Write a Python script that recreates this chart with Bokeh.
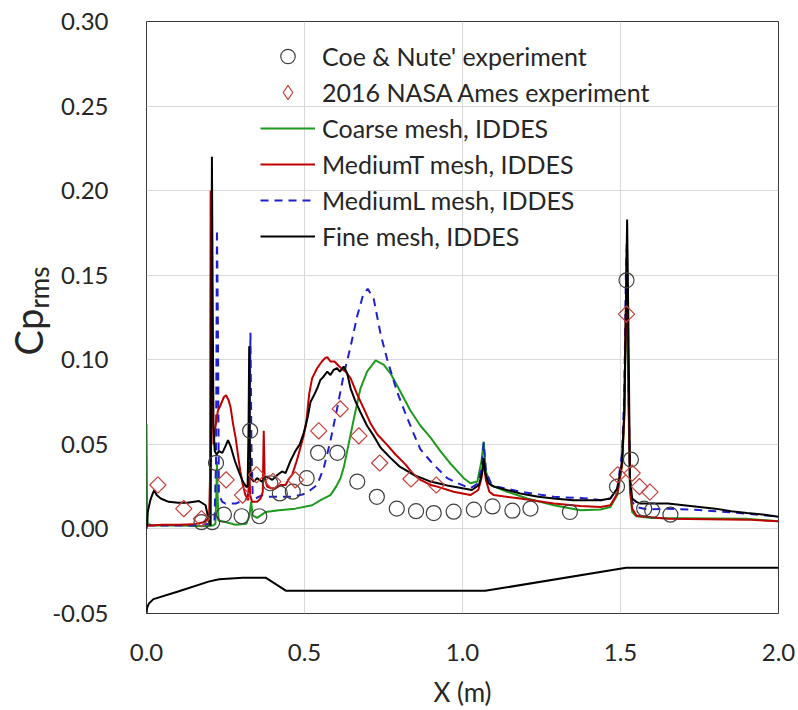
import numpy as np
from bokeh.plotting import figure
from bokeh.models import (Range1d, Legend, LegendItem, FixedTicker, NumeralTickFormatter,
                          LinearAxis)
from bokeh.embed import file_html
from bokeh.resources import INLINE

FONT = "Lato"
NBSP = "\u00a0"

# ---------------- data ----------------
x_ticks = [0.0, 0.5, 1.0, 1.5, 2.0]
y_ticks = [-0.05, 0.0, 0.05, 0.10, 0.15, 0.20, 0.25, 0.30]

coe_nute = [(0.174, 0.004), (0.208, 0.004), (0.220, 0.039), (0.245, 0.0085), (0.301, 0.0075),
            (0.328, 0.058), (0.357, 0.0075), (0.392, 0.027), (0.422, 0.021), (0.463, 0.022),
            (0.507, 0.030), (0.543, 0.045), (0.604, 0.045), (0.667, 0.028), (0.729, 0.019),
            (0.792, 0.012), (0.853, 0.0105), (0.909, 0.0094), (0.972, 0.0102), (1.036, 0.0114),
            (1.095, 0.0133), (1.158, 0.0108), (1.215, 0.012), (1.340, 0.010), (1.489, 0.025),
            (1.519, 0.147), (1.533, 0.041), (1.575, 0.012), (1.600, 0.011), (1.658, 0.0084)]

nasa_ames = [(0.036, 0.026), (0.118, 0.012), (0.174, 0.006), (0.252, 0.029), (0.304, 0.020),
             (0.348, 0.032), (0.400, 0.028), (0.471, 0.029), (0.545, 0.058), (0.613, 0.071),
             (0.672, 0.055), (0.738, 0.039), (0.837, 0.0295), (0.917, 0.026), (1.491, 0.032),
             (1.519, 0.127), (1.537, 0.033), (1.560, 0.025), (1.593, 0.0218)]

coarse = [(0.000, 0.062), (0.002, 0.010), (0.004, 0.003), (0.020, 0.002), (0.100, 0.002),
          (0.187, 0.0016), (0.210, 0.002), (0.218, 0.003), (0.221, 0.020), (0.223, 0.040),
          (0.225, 0.020), (0.228, 0.005), (0.240, 0.0045), (0.282, 0.0025), (0.316, 0.003),
          (0.326, 0.008), (0.331, 0.016), (0.336, 0.008), (0.350, 0.0065), (0.377, 0.010),
          (0.419, 0.011), (0.471, 0.012), (0.524, 0.014), (0.551, 0.017), (0.582, 0.020),
          (0.600, 0.025), (0.614, 0.030), (0.625, 0.037), (0.635, 0.046), (0.656, 0.065),
          (0.677, 0.083), (0.698, 0.093), (0.725, 0.0996), (0.741, 0.098), (0.751, 0.097),
          (0.772, 0.092), (0.804, 0.081), (0.835, 0.070), (0.867, 0.061), (0.899, 0.054),
          (0.930, 0.046), (0.960, 0.039), (1.004, 0.030), (1.025, 0.027), (1.047, 0.028),
          (1.060, 0.040), (1.067, 0.0516), (1.074, 0.034), (1.089, 0.026), (1.141, 0.022),
          (1.205, 0.018), (1.289, 0.014), (1.373, 0.011), (1.437, 0.0115), (1.468, 0.013),
          (1.490, 0.020), (1.505, 0.038), (1.512, 0.065), (1.517, 0.120), (1.520, 0.150),
          (1.524, 0.090), (1.530, 0.022), (1.537, 0.010), (1.550, 0.0075), (1.600, 0.0065),
          (1.900, 0.006), (2.000, 0.0045)]

medium_t = [(0.000, 0.002), (0.010, 0.002), (0.050, 0.0025), (0.100, 0.0025), (0.150, 0.0027),
            (0.180, 0.004), (0.192, 0.0055), (0.198, 0.006), (0.201, 0.030), (0.203, 0.200),
            (0.205, 0.160), (0.208, 0.090), (0.212, 0.050), (0.218, 0.060), (0.226, 0.070),
            (0.234, 0.073), (0.245, 0.078), (0.252, 0.079), (0.260, 0.076), (0.266, 0.072),
            (0.274, 0.062), (0.282, 0.054), (0.290, 0.043), (0.297, 0.034), (0.305, 0.026),
            (0.313, 0.020), (0.322, 0.017), (0.325, 0.040), (0.328, 0.020), (0.334, 0.016),
            (0.350, 0.016), (0.361, 0.018), (0.368, 0.022), (0.371, 0.058), (0.374, 0.030),
            (0.382, 0.025), (0.395, 0.024), (0.408, 0.024), (0.425, 0.026), (0.440, 0.026),
            (0.452, 0.030), (0.461, 0.032), (0.475, 0.040), (0.487, 0.048), (0.497, 0.055),
            (0.505, 0.062), (0.515, 0.080), (0.524, 0.089), (0.540, 0.095), (0.555, 0.099),
            (0.565, 0.101), (0.572, 0.1016), (0.582, 0.099), (0.595, 0.099), (0.610, 0.096),
            (0.630, 0.093), (0.646, 0.089), (0.668, 0.079), (0.688, 0.071), (0.710, 0.062),
            (0.730, 0.056), (0.760, 0.050), (0.788, 0.044), (0.820, 0.038), (0.846, 0.032),
            (0.867, 0.029), (0.899, 0.026), (0.920, 0.025), (0.972, 0.022), (1.025, 0.020),
            (1.050, 0.023), (1.060, 0.030), (1.067, 0.040), (1.074, 0.029), (1.085, 0.022),
            (1.099, 0.020), (1.183, 0.018), (1.289, 0.015), (1.373, 0.0135), (1.437, 0.013),
            (1.468, 0.014), (1.490, 0.021), (1.505, 0.038), (1.512, 0.068), (1.517, 0.130),
            (1.520, 0.165), (1.524, 0.100), (1.530, 0.025), (1.537, 0.012), (1.550, 0.008),
            (1.563, 0.0075), (1.650, 0.006), (1.900, 0.0055), (2.000, 0.0045)]

medium_l = [(0.000, 0.002), (0.050, 0.002), (0.100, 0.002), (0.150, 0.002), (0.200, 0.003),
            (0.215, 0.004), (0.220, 0.040), (0.223, 0.177), (0.226, 0.120), (0.229, 0.020),
            (0.240, 0.016), (0.250, 0.015), (0.282, 0.015), (0.308, 0.017), (0.320, 0.018),
            (0.325, 0.040), (0.329, 0.116), (0.332, 0.050), (0.336, 0.020), (0.345, 0.018),
            (0.366, 0.020), (0.382, 0.019), (0.419, 0.019), (0.461, 0.019), (0.487, 0.020),
            (0.503, 0.021), (0.519, 0.023), (0.540, 0.026), (0.561, 0.036), (0.582, 0.052),
            (0.603, 0.071), (0.624, 0.091), (0.646, 0.108), (0.667, 0.126), (0.685, 0.138),
            (0.700, 0.142), (0.719, 0.136), (0.741, 0.115), (0.762, 0.100), (0.793, 0.081),
            (0.820, 0.068), (0.846, 0.056), (0.867, 0.047), (0.899, 0.040), (0.925, 0.035),
            (0.952, 0.030), (0.985, 0.027), (1.025, 0.024), (1.050, 0.027), (1.060, 0.036),
            (1.067, 0.051), (1.074, 0.034), (1.090, 0.027), (1.110, 0.025), (1.183, 0.022),
            (1.289, 0.019), (1.394, 0.018), (1.440, 0.017), (1.468, 0.018), (1.490, 0.024),
            (1.505, 0.045), (1.512, 0.080), (1.517, 0.150), (1.520, 0.170), (1.524, 0.100),
            (1.530, 0.030), (1.537, 0.016), (1.550, 0.013), (1.585, 0.0115), (1.650, 0.012),
            (1.730, 0.0114), (1.800, 0.0105), (1.900, 0.0090), (2.000, 0.0072)]

fine = [(0.000, 0.000), (0.004, 0.010), (0.012, 0.017), (0.020, 0.021), (0.025, 0.023),
        (0.032, 0.020), (0.045, 0.018), (0.070, 0.016), (0.100, 0.0155), (0.130, 0.0155),
        (0.166, 0.0165), (0.187, 0.014), (0.197, 0.005), (0.203, 0.002), (0.205, 0.100),
        (0.207, 0.220), (0.209, 0.150), (0.212, 0.060), (0.216, 0.046), (0.222, 0.044),
        (0.229, 0.046), (0.240, 0.045), (0.250, 0.049), (0.258, 0.0525), (0.266, 0.049),
        (0.280, 0.040), (0.292, 0.034), (0.305, 0.028), (0.315, 0.025), (0.320, 0.025),
        (0.323, 0.060), (0.325, 0.108), (0.327, 0.050), (0.330, 0.030), (0.340, 0.028),
        (0.350, 0.030), (0.365, 0.028), (0.380, 0.031), (0.398, 0.029), (0.415, 0.032),
        (0.429, 0.034), (0.440, 0.033), (0.455, 0.040), (0.471, 0.046), (0.485, 0.050),
        (0.498, 0.057), (0.510, 0.066), (0.519, 0.075), (0.530, 0.079), (0.540, 0.083),
        (0.550, 0.088), (0.560, 0.090), (0.572, 0.093), (0.582, 0.091), (0.592, 0.094),
        (0.603, 0.095), (0.612, 0.093), (0.624, 0.096), (0.635, 0.092), (0.646, 0.083),
        (0.660, 0.076), (0.677, 0.069), (0.698, 0.061), (0.719, 0.055), (0.741, 0.048),
        (0.772, 0.042), (0.800, 0.037), (0.846, 0.032), (0.899, 0.028), (0.952, 0.0257),
        (1.000, 0.024), (1.030, 0.023), (1.052, 0.026), (1.062, 0.033), (1.067, 0.042),
        (1.072, 0.033), (1.082, 0.027), (1.099, 0.025), (1.140, 0.023), (1.183, 0.021),
        (1.240, 0.019), (1.289, 0.018), (1.350, 0.017), (1.400, 0.017), (1.437, 0.017),
        (1.468, 0.018), (1.490, 0.024), (1.505, 0.040), (1.512, 0.070), (1.517, 0.130),
        (1.521, 0.183), (1.525, 0.120), (1.530, 0.030), (1.537, 0.018), (1.550, 0.016),
        (1.563, 0.015), (1.600, 0.015), (1.650, 0.015), (1.700, 0.014), (1.750, 0.013),
        (1.800, 0.012), (1.850, 0.0105), (1.900, 0.0094), (1.950, 0.0085), (2.000, 0.0072)]

geometry = [(0.000, -0.050), (0.002, -0.0465), (0.008, -0.044), (0.022, -0.0415), (0.100, -0.037),
            (0.199, -0.031), (0.230, -0.0297), (0.304, -0.0288), (0.377, -0.0288), (0.442, -0.0366),
            (1.072, -0.0366), (1.518, -0.0230), (2.000, -0.0230)]

labels = ["Coe & Nute' experiment", "2016 NASA Ames experiment", "Coarse mesh, IDDES",
          "MediumT mesh, IDDES", "MediumL mesh, IDDES", "Fine mesh, IDDES"]

# y-axis title pieces: "Cp" with subscript "rms"
y_title_main = "Cp"
y_title_sub = "rms"


def xs(pts):
    return [a for a, b in pts]


def ys(pts):
    return [b for a, b in pts]


# ---------------- figure ----------------
p = figure(width=798, height=710, output_backend="svg", toolbar_location=None,
           x_range=Range1d(0, 2.0), y_range=Range1d(-0.05, 0.30),
           min_border_left=146, min_border_right=20, min_border_top=21, min_border_bottom=94)
p.background_fill_color = "white"
p.border_fill_color = "white"
p.outline_line_color = "#3a3a3a"
p.outline_line_width = 1


def bare(ax):
    ax.axis_line_color = None
    ax.major_tick_line_color = None
    ax.minor_tick_line_color = None
    ax.major_tick_out = 0
    ax.major_tick_in = 0
    ax.minor_tick_out = 0
    ax.minor_tick_in = 0
    ax.major_label_text_font = FONT
    ax.major_label_text_color = "#262626"
    ax.axis_label_text_font = FONT
    ax.axis_label_text_font_style = "normal"
    ax.axis_label_text_color = "#262626"


for ax in (p.xaxis[0], p.yaxis[0]):
    bare(ax)
    ax.major_label_text_font_size = "24px"

p.xaxis.ticker = FixedTicker(ticks=x_ticks)
p.yaxis.ticker = FixedTicker(ticks=y_ticks)
p.xaxis.formatter = NumeralTickFormatter(format="0.0")
p.yaxis.formatter = NumeralTickFormatter(format="0.00")
p.xaxis.major_label_standoff = 30
p.yaxis.major_label_standoff = 38
p.xaxis.axis_label = "X (m)"
p.xaxis.axis_label_text_font_size = "26px"
p.xaxis.axis_label_standoff = 12


def title_axis(text, size, standoff):
    ax = LinearAxis(ticker=FixedTicker(ticks=[]))
    bare(ax)
    ax.major_label_standoff = 0
    ax.axis_label = text
    ax.axis_label_text_font_size = size
    ax.axis_label_standoff = standoff
    return ax


# y-axis title: subscript "rms" (raised along the axis) and "Cp" (lowered), overlapping panels
p.add_layout(title_axis(NBSP * 9 + y_title_sub, "26px", -5), "left")
p.add_layout(title_axis(y_title_main + NBSP * 3, "38px", -31), "left")

p.xgrid.grid_line_color = "#d9d9d9"
p.ygrid.grid_line_color = "#d9d9d9"
p.xgrid.ticker = FixedTicker(ticks=x_ticks)
p.ygrid.ticker = FixedTicker(ticks=y_ticks)

# geometry profile (no legend)
p.line(xs(geometry), ys(geometry), line_color="black", line_width=2)

r_green = p.line(xs(coarse), ys(coarse), line_color="#1e9a1e", line_width=2)
r_blue = p.line(xs(medium_l), ys(medium_l), line_color="#1f1fd0", line_width=2, line_dash="8 6")
r_red = p.line(xs(medium_t), ys(medium_t), line_color="#c00000", line_width=2)
r_black = p.line(xs(fine), ys(fine), line_color="black", line_width=2)

r_coe = p.scatter(xs(coe_nute), ys(coe_nute), marker="circle", size=15,
                  fill_color=None, line_color="#404040", line_width=1.2)
r_nasa = p.scatter(xs(nasa_ames), ys(nasa_ames), marker="square", angle=np.pi / 4, size=11.5,
                   fill_color=None, line_color="#c8403a", line_width=1.2)
# legend key for the diamonds (the legend does not rotate markers); hidden in the plot
r_nasa_key = p.scatter(xs(nasa_ames), ys(nasa_ames), marker="diamond", size=18,
                       fill_color=None, line_color="#c8403a", line_width=1.2, visible=False)

legend = Legend(items=[
    LegendItem(label=labels[0], renderers=[r_coe]),
    LegendItem(label=labels[1], renderers=[r_nasa_key]),
    LegendItem(label=labels[2], renderers=[r_green]),
    LegendItem(label=labels[3], renderers=[r_red]),
    LegendItem(label=labels[4], renderers=[r_blue]),
    LegendItem(label=labels[5], renderers=[r_black]),
], location=(114, 359))
legend.background_fill_alpha = 0
legend.border_line_color = None
legend.padding = 0
legend.margin = 0
legend.spacing = 0
legend.glyph_width = 55
legend.glyph_height = 36
legend.label_height = 36
legend.label_standoff = 7
legend.label_text_font = FONT
legend.label_text_font_size = "25px"
legend.label_text_color = "#262626"
p.add_layout(legend, "center")

open("out.html", "w").write(file_html(p, INLINE))
